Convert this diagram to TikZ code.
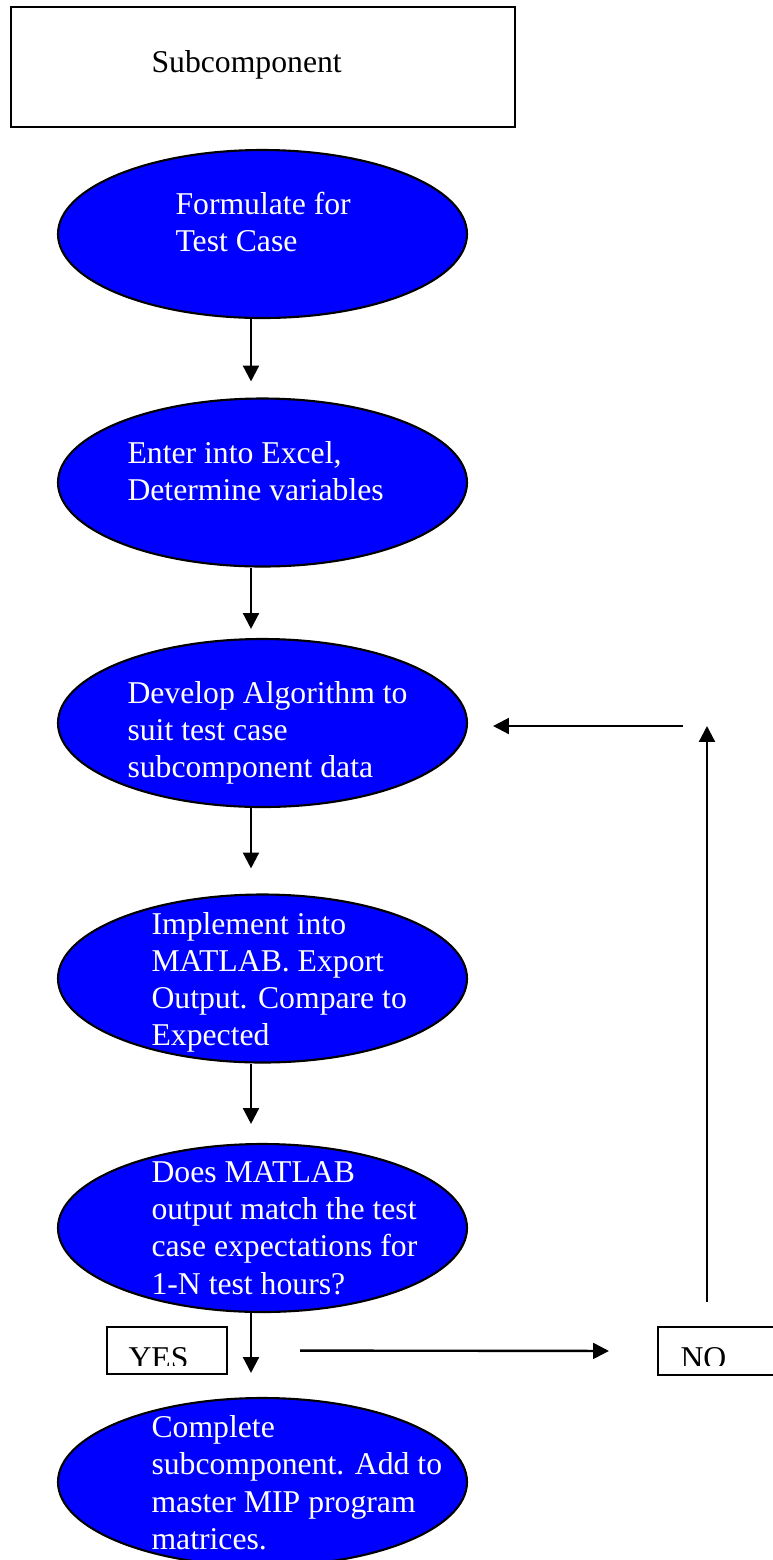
\documentclass[tikz,border=0pt]{standalone}
\usepackage{fontspec}
\setmainfont{Liberation Serif}
\usetikzlibrary{positioning, arrows.meta, shapes.geometric}
\definecolor{stepblue}{RGB}{0,0,255}
\newdimen\pxu
\pxu=0.3785pt
\tikzset{
  stepshape/.style={ellipse, draw=black, line width=0.8pt, fill=stepblue, minimum width=409\pxu, minimum height=168\pxu, inner sep=0pt},
  steptext/.style={anchor=north west, inner sep=0pt, align=left, text=white, font=\fontsize{12pt}{14.1pt}\selectfont},
  plainbox/.style={draw, line width=0.8pt, fill=white, inner sep=0pt},
  boxtext/.style={anchor=north west, inner sep=0pt, font=\fontsize{12pt}{14.1pt}\selectfont},
  link/.style={->, line width=0.9pt}
}

\begin{document}
\begin{tikzpicture}[x=0.3785pt, y=-0.3785pt, >={Triangle[length=6pt, width=6pt]}]
    \useasboundingbox (0,0) rectangle (772,1560);

    % Subcomponent box
    \node[plainbox, minimum width=504\pxu, minimum height=120\pxu] (sub) at (263,67) {};
    \node[boxtext] (sub-text) at (151,49.5) {Subcomponent};

    % Steps
    \node[stepshape] (formulate) at (262.5,234) {};
    \node[steptext] (formulate-text) at (175,191.5) {Formulate for\\Test Case};

    \node[stepshape] (enter) at (262.5,482.5) {};
    \node[steptext] (enter-text) at (127,440.5) {Enter into Excel,\\Determine variables};

    \node[stepshape] (develop) at (262.5,723) {};
    \node[steptext] (develop-text) at (127,680.5) {Develop Algorithm to\\suit test case\\subcomponent data};

    \node[stepshape] (implement) at (262.5,978.5) {};
    \node[steptext] (implement-text) at (151,911.5) {Implement into\\MATLAB. Export\\Output. Compare to\\Expected};

    \node[stepshape] (check) at (262.5,1228) {};
    \node[steptext] (check-text) at (151,1161) {Does MATLAB\\output match the test\\case expectations for\\1-N test hours?};

    \node[stepshape] (complete) at (262.5,1482) {};
    \node[steptext] (complete-text) at (151,1415) {Complete\\subcomponent. Add to\\master MIP program\\matrices.};

    % Answer boxes
    \node[plainbox, minimum width=120\pxu, minimum height=47\pxu] (yes) at (167,1350.5) {};
    \node[plainbox, minimum width=130\pxu, minimum height=48\pxu] (no) at (723,1351) {};
    \coordinate (textcut) at (0,1365);
    \begin{scope}
      \clip (yes.north west) rectangle (no.east |- textcut);
      \node[boxtext] (yes-text) at (128,1347) {YES};
      \node[boxtext] (no-text) at (680,1347) {NO};
    \end{scope}

    % Main flow
    \coordinate (spine) at (251,0);
    \draw[link, shorten >=16\pxu] (formulate.south -| spine) -- (enter.north -| spine);
    \draw[link, shorten >=9\pxu] (enter.south -| spine) -- (develop.north -| spine);
    \draw[link, shorten >=25\pxu] (develop.south -| spine) -- (implement.north -| spine);
    \draw[link, shorten >=19\pxu] (implement.south -| spine) -- (check.north -| spine);
    \draw[link, shorten >=24\pxu] (check.south -| spine) -- (complete.north -| spine);

    % Loop back
    \draw[link, shorten <=72\pxu, shorten >=48\pxu] (yes.east) -- (no.west);
    \coordinate (riser) at (707,726);
    \draw[link, shorten <=24\pxu] (no.north -| riser) -- (riser);
    \draw[link, shorten <=24\pxu, shorten >=25\pxu] (riser) -- (riser -| develop.east);
\end{tikzpicture}
\end{document}
